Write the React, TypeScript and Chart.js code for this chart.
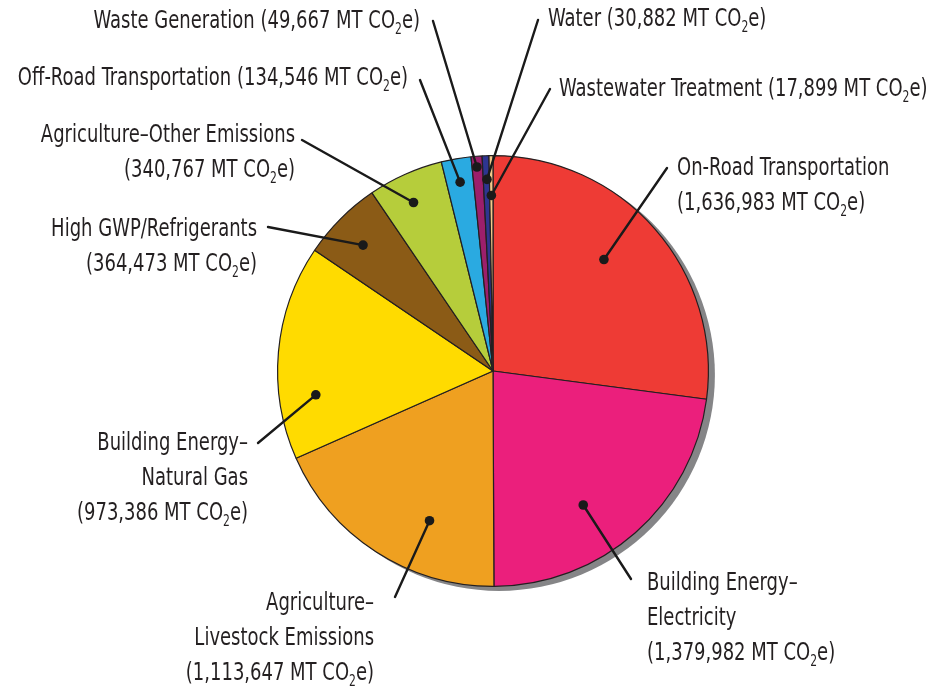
import React, { useEffect, useRef } from "react";
import { Chart, registerables } from "chart.js";
Chart.register(...registerables);

const categories = [
  "On-Road Transportation",
  "Building Energy–|Electricity",
  "Agriculture–|Livestock Emissions",
  "Building Energy–|Natural Gas",
  "High GWP/Refrigerants",
  "Agriculture–Other Emissions",
  "Off-Road Transportation",
  "Waste Generation",
  "Water",
  "Wastewater Treatment",
];
const values = [1636983, 1379982, 1113647, 973386, 364473, 340767, 134546, 49667, 30882, 17899];
const unit = "MT CO2e";
const colors = [
  "#EE3B35",
  "#EB1F7C",
  "#EFA020",
  "#FFDB00",
  "#8B5B16",
  "#B6CD3B",
  "#2AAAE1",
  "#9C1F6B",
  "#2E3590",
  "#F3C98B",
];

// label layout: text anchor (x,y of first line), alignment, leader start (lx,ly),
// dot placement inside slice: t = fraction across the slice angle, r = fraction of radius
const labelLayout = [
  { x: 677, y: 168, align: "left", lx: 667, ly: 168, t: 0.46, r: 0.73, inline: false },
  { x: 647, y: 583, align: "left", lx: 631, ly: 579, t: 0.59, r: 0.75, inline: false },
  { x: 374, y: 603, align: "right", lx: 395, ly: 597, t: 0.35, r: 0.755, inline: false },
  { x: 248, y: 443, align: "right", lx: 258, ly: 443, t: 0.28, r: 0.83, inline: false },
  { x: 257, y: 229, align: "right", lx: 268, ly: 227, t: 0.46, r: 0.84, inline: false },
  { x: 295, y: 135, align: "right", lx: 302, ly: 140, t: 0.44, r: 0.865, inline: false },
  { x: 408, y: 78, align: "right", lx: 420, ly: 80, t: 0.5, r: 0.89, inline: true },
  { x: 420, y: 21, align: "right", lx: 433, ly: 21, t: 0.46, r: 0.95, inline: true },
  { x: 548, y: 19, align: "left", lx: 538, ly: 20, t: 0.6, r: 0.89, inline: true },
  { x: 559, y: 89, align: "left", lx: 550, ly: 89, t: 0.5, r: 0.815, inline: true },
];

const FONT_FAMILY = "'DejaVu Sans Condensed', 'Liberation Sans Narrow', sans-serif";
const FONT_SIZE = 25;
const SUB_SIZE = 15;
const LINE_H = 35;
const SX = 0.8;
const TEXT_COLOR = "#231f20";

function fmt(v: number) {
  return v.toLocaleString("en-US");
}

function buildLines(i: number): string[] {
  const lines = categories[i].split("|");
  const valueText = "(" + fmt(values[i]) + " " + unit + ")";
  if (labelLayout[i].inline) {
    lines[lines.length - 1] = lines[lines.length - 1] + " " + valueText;
  } else {
    lines.push(valueText);
  }
  return lines;
}

function segments(text: string) {
  const idx = text.indexOf("CO2");
  if (idx < 0) return [{ t: text, sub: false }];
  return [
    { t: text.slice(0, idx + 2), sub: false },
    { t: "2", sub: true },
    { t: text.slice(idx + 3), sub: false },
  ];
}

function drawRich(ctx: CanvasRenderingContext2D, text: string, x: number, y: number, align: string) {
  const segs = segments(text);
  const main = `${FONT_SIZE}px ${FONT_FAMILY}`;
  const sub = `${SUB_SIZE}px ${FONT_FAMILY}`;
  let total = 0;
  const widths = segs.map((s) => {
    ctx.font = s.sub ? sub : main;
    const w = ctx.measureText(s.t).width * SX;
    total += w;
    return w;
  });
  let cx = align === "right" ? x - total : x;
  ctx.textAlign = "left";
  ctx.textBaseline = "middle";
  ctx.fillStyle = TEXT_COLOR;
  segs.forEach((s, k) => {
    ctx.font = s.sub ? sub : main;
    ctx.save();
    ctx.translate(cx, s.sub ? y + 9 : y);
    ctx.scale(SX, 1);
    ctx.fillText(s.t, 0, 0);
    ctx.restore();
    cx += widths[k];
  });
}

const shadowPlugin = {
  id: "pieShadow",
  beforeDatasetsDraw(chart: any) {
    const meta = chart.getDatasetMeta(0);
    const arc = meta.data[0];
    if (!arc) return;
    const ctx = chart.ctx;
    ctx.save();
    ctx.fillStyle = "#858587";
    ctx.beginPath();
    ctx.arc(arc.x + 6, arc.y + 4, arc.outerRadius + 0.5, 0, Math.PI * 2);
    ctx.fill();
    ctx.restore();
  },
};

const labelPlugin = {
  id: "leaderLabels",
  afterDatasetsDraw(chart: any) {
    const meta = chart.getDatasetMeta(0);
    const ctx = chart.ctx;
    ctx.save();
    meta.data.forEach((arc: any, i: number) => {
      const L = labelLayout[i];
      const ang = arc.startAngle + (arc.endAngle - arc.startAngle) * L.t;
      const rr = arc.outerRadius * L.r;
      const dx = arc.x + Math.cos(ang) * rr;
      const dy = arc.y + Math.sin(ang) * rr;
      ctx.strokeStyle = "#1a1a1a";
      ctx.lineWidth = 2.4;
      ctx.lineCap = "round";
      ctx.beginPath();
      ctx.moveTo(L.lx, L.ly);
      ctx.lineTo(dx, dy);
      ctx.stroke();
      ctx.fillStyle = "#1a1a1a";
      ctx.beginPath();
      ctx.arc(dx, dy, 4.8, 0, Math.PI * 2);
      ctx.fill();
      const lines = buildLines(i);
      lines.forEach((ln, k) => drawRich(ctx, ln, L.x, L.y + k * LINE_H, L.align));
    });
    ctx.restore();
  },
};

export default function App() {
  const ref = useRef<HTMLCanvasElement | null>(null);
  useEffect(() => {
    if (!ref.current) return;
    const chart = new Chart(ref.current, {
      type: "pie",
      data: {
        labels: categories.map((c) => c.replace("|", " ")),
        datasets: [
          {
            data: values,
            backgroundColor: colors,
            borderColor: "#231f20",
            borderWidth: 1.2,
          },
        ],
      },
      options: {
        responsive: false,
        animation: false,
        events: [],
        layout: { padding: { left: 277, right: 223, top: 155, bottom: 100 } },
        plugins: { legend: { display: false }, tooltip: { enabled: false } },
      },
      plugins: [shadowPlugin, labelPlugin],
    });
    return () => chart.destroy();
  }, []);
  return (
    <div style={{ position: "absolute", left: 0, top: 0, width: 932, height: 687, background: "#fff" }}>
      <canvas ref={ref} width={932} height={687} style={{ display: "block" }} />
    </div>
  );
}
